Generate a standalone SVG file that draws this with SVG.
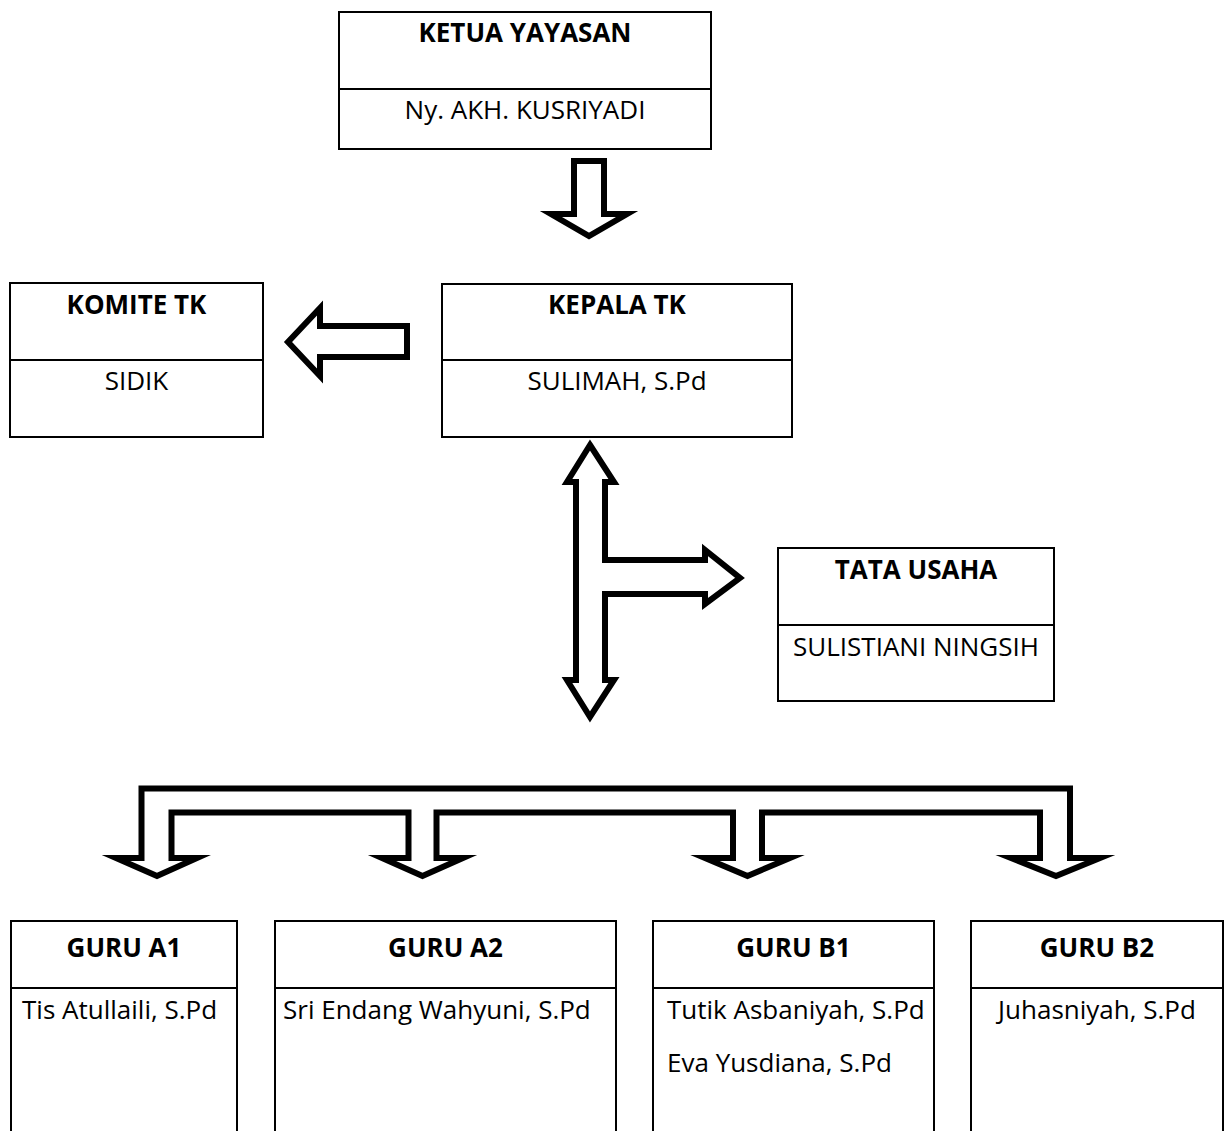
<svg xmlns="http://www.w3.org/2000/svg" width="1232" height="1131" viewBox="0 0 1232 1131">
<style>
.box{fill:#fff;stroke:#000;stroke-width:2}
.div{stroke:#000;stroke-width:2}
.t{font-family:"Open Sans","Noto Sans",sans-serif;font-size:26px;fill:#000}
.b{font-weight:bold}
.c{text-anchor:middle}
.arr{fill:#fff;stroke:#000;stroke-width:6;stroke-linejoin:miter;stroke-miterlimit:10}
</style>
<rect width="1232" height="1131" fill="#fff"/>
<g id="connectors">
<polygon class="arr" points="574,161 604,161 604,214 627,214 589,236 551,214 574,214"/>
<polygon class="arr" points="407,326 320,326 320,308 288,342 320,376 320,357 407,357"/>
<polygon class="arr" points="590,445 614,482 605,482 605,560 705,560 705,550 740,578 705,604 705,594 605,594 605,680 614,680 590,717 567,680 576,680 576,482 567,482"/>
<polygon class="arr" points="141.5,788.5 1070,788.5 1070,858 1100,858 1056,876 1011,858 1040,858 1040,812.5 762,812.5 762,858 790,858 747.5,876 705,858 733,858 733,812.5 436.5,812.5 436.5,858 463,858 422.5,876 382,858 408.5,858 408.5,812.5 171.5,812.5 171.5,858 197,858 157,876 116,858 141.5,858"/>
</g>
<g id="ketua">
<rect class="box" x="339" y="12" width="372" height="137"/>
<line class="div" x1="339" y1="89" x2="711" y2="89"/>
<text class="t b c" x="525" y="42">KETUA YAYASAN</text>
<text class="t c" x="525" y="119">Ny. AKH. KUSRIYADI</text>
</g>
<g id="komite">
<rect class="box" x="10" y="283" width="253" height="154"/>
<line class="div" x1="10" y1="360" x2="263" y2="360"/>
<text class="t b c" x="136.5" y="314">KOMITE TK</text>
<text class="t c" x="136.5" y="390">SIDIK</text>
</g>
<g id="kepala">
<rect class="box" x="442" y="284" width="350" height="153"/>
<line class="div" x1="442" y1="360" x2="792" y2="360"/>
<text class="t b c" x="617" y="314">KEPALA TK</text>
<text class="t c" x="617" y="390">SULIMAH, S.Pd</text>
</g>
<g id="tatausaha">
<rect class="box" x="778" y="548" width="276" height="153"/>
<line class="div" x1="778" y1="625" x2="1054" y2="625"/>
<text class="t b c" x="916" y="579">TATA USAHA</text>
<text class="t c" x="916" y="656">SULISTIANI NINGSIH</text>
</g>
<g id="guruA1">
<rect class="box" x="11" y="921" width="226" height="230"/>
<line class="div" x1="11" y1="988" x2="237" y2="988"/>
<text class="t b c" x="124" y="957">GURU A1</text>
<text class="t" x="22" y="1019">Tis Atullaili, S.Pd</text>
</g>
<g id="guruA2">
<rect class="box" x="275" y="921" width="341" height="230"/>
<line class="div" x1="275" y1="988" x2="616" y2="988"/>
<text class="t b c" x="445.5" y="957">GURU A2</text>
<text class="t" x="283" y="1019">Sri Endang Wahyuni, S.Pd</text>
</g>
<g id="guruB1">
<rect class="box" x="653" y="921" width="281" height="230"/>
<line class="div" x1="653" y1="988" x2="934" y2="988"/>
<text class="t b c" x="793.5" y="957">GURU B1</text>
<text class="t" x="667" y="1019">Tutik Asbaniyah, S.Pd</text>
<text class="t" x="667" y="1072">Eva Yusdiana, S.Pd</text>
</g>
<g id="guruB2">
<rect class="box" x="971" y="921" width="252" height="230"/>
<line class="div" x1="971" y1="988" x2="1223" y2="988"/>
<text class="t b c" x="1097" y="957">GURU B2</text>
<text class="t c" x="1097" y="1019">Juhasniyah, S.Pd</text>
</g>
</svg>
